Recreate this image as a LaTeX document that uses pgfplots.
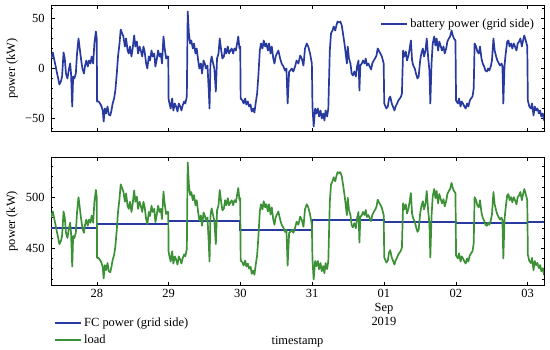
\documentclass[border=0pt]{standalone}
\usepackage{fontspec}
\setmainfont{Liberation Serif}
\usepackage{pgfplots}
\usepackage{pgfplotstable}
\pgfplotsset{compat=1.18}
\definecolor{cblue}{RGB}{40,58,160}
\definecolor{cgreen}{RGB}{60,145,55}
\pgfplotstableread{
h bat load
-15.3 10 480
-15.0 13 483
-14.7 16 486
-14.3 10 480
-13.8 3 473
-13.4 -3 467
-12.9 -10 460
-12.5 -16 454
-12.0 -13 457
-11.6 -8 462
-11.1 16 486
-10.7 10 480
-10.3 -5 465
-9.8 -10 460
-9.4 -2 468
-8.9 5 475
-8.6 -5 465
-8.2 -38 432
-7.9 -8 462
-7.5 -10 460
-7.0 -5 465
-6.6 15 485
-6.1 30 500
-5.7 20 490
-5.2 8 478
-4.8 0 470
-4.3 -5 465
-3.9 3 473
-3.5 8 478
-3.0 2 472
-2.6 8 478
-2.1 5 475
-1.7 12 482
-1.2 5 475
-0.8 25 495
-0.3 37 507
0.0 30 500
0.1 -33 440.5
0.6 -33 440.5
1.1 -35 438.5
1.6 -38 435.5
2.0 -42 431.5
2.3 -53 420.5
2.7 -40 433.5
3.1 -45 428.5
3.6 -38 435.5
4.0 -46 427.5
4.5 -47 426.5
4.9 -42 431.5
5.3 -35 438.5
5.8 -30 443.5
6.2 -22 451.5
6.7 -5 468.5
7.1 12 485.5
7.6 25 498.5
8.0 39 512.5
8.5 35 508.5
8.9 32 505.5
9.4 22 495.5
9.8 30 503.5
10.3 18 491.5
10.7 15 488.5
11.1 22 495.5
11.6 12 485.5
12.0 20 493.5
12.5 33 506.5
12.9 22 495.5
13.4 27 500.5
13.8 15 488.5
14.3 22 495.5
14.7 18 491.5
15.2 12 485.5
15.6 22 495.5
16.0 17 490.5
16.5 5 478.5
16.9 0 473.5
17.4 12 485.5
17.8 8 481.5
18.3 18 491.5
18.7 12 485.5
19.2 15 488.5
19.6 2 475.5
20.1 10 483.5
20.5 18 491.5
21.0 12 485.5
21.4 15 488.5
21.8 5 478.5
22.3 32 505.5
22.7 20 493.5
23.2 10 483.5
23.6 12 485.5
23.9 12 485.5
24.0 -30 447
24.3 -35 442
24.7 -40 437
25.2 -30 447
25.6 -42 435
26.1 -35 442
26.5 -38 439
27.0 -43 434
27.4 -35 442
27.9 -38 439
28.3 -42 435
28.7 -37 440
29.2 -33 444
29.6 -35 442
30.1 -28 449
30.4 57 534
30.8 35 512
31.2 25 502
31.6 28 505
32.1 20 497
32.5 25 502
33.0 15 492
33.4 20 497
33.9 8 485
34.3 0 477
34.8 5 482
35.2 -5 472
35.7 8 485
36.1 5 482
36.5 0 477
37.0 3 480
37.4 -20 457
37.7 -40 437
38.0 5 482
38.4 12 489
38.9 5 482
39.3 0 477
39.8 -23 454
40.2 10 487
40.7 15 492
41.1 30 507
41.6 18 495
42.0 10 487
42.5 12 489
42.9 20 497
43.3 15 492
43.8 22 499
44.2 15 492
44.7 18 495
45.1 20 497
45.6 15 492
46.0 20 497
46.5 18 495
46.9 25 502
47.3 32 509
47.7 20 497
47.95 22 499
48.1 -30 438
48.7 -32 436
49.1 -35 433
49.6 -30 438
50.0 -36 432
50.5 -33 435
50.9 -38 430
51.4 -36 432
51.8 -43 425
52.3 -40 428
52.7 -44 424
53.1 -35 433
53.6 -25 443
54.0 -8 460
54.5 18 486
54.9 25 493
55.4 20 488
55.8 28 496
56.3 22 490
56.7 25 493
57.2 18 486
57.6 25 493
58.1 15 483
58.5 22 490
59.0 10 478
59.4 5 473
59.8 12 480
60.2 15 483
60.7 18 486
61.3 10 478
61.8 5 473
62.4 2 470
62.9 -2 466
63.4 0 468
63.8 -35 433
64.3 -3 465
64.7 -2 466
65.2 0 468
65.7 -3 465
66.3 2 470
66.8 8 476
67.4 5 473
68.0 13 481
68.5 10 478
69.1 3 471
69.6 20 488
70.2 25 493
70.7 22 490
71.3 15 483
71.9 5 473
72.1 -38 439.5
72.5 -58 419.5
73.0 -40 437.5
73.4 -45 432.5
73.9 -40 437.5
74.3 -48 429.5
74.8 -42 435.5
75.2 -50 427.5
75.7 -45 432.5
76.1 -52 425.5
76.5 -42 435.5
77.0 -48 429.5
77.4 -40 437.5
77.9 18 495.5
78.3 35 512.5
78.8 38 515.5
79.2 42 519.5
79.7 38 515.5
80.1 43 520.5
80.5 47 524.5
81.0 46 523.5
81.4 47 524.5
81.9 43 520.5
82.3 35 512.5
82.8 25 502.5
83.2 15 492.5
83.6 5 482.5
83.9 22 499.5
84.3 10 487.5
84.8 5 482.5
85.2 -5 472.5
85.6 -7 470.5
86.1 -3 474.5
86.6 -8 469.5
87.0 2 479.5
87.5 8 485.5
87.8 -22 455.5
88.1 3 480.5
88.6 5 482.5
89.0 8 485.5
89.5 5 482.5
89.9 10 487.5
90.3 3 480.5
90.8 5 482.5
91.2 2 479.5
91.7 -1 476.5
92.1 5 482.5
92.6 8 485.5
93.0 10 487.5
93.5 13 490.5
93.9 20 497.5
94.4 17 494.5
94.8 15 492.5
95.3 12 489.5
95.9 5 482.5
96.1 -35 441
96.8 -40 436
97.3 -38 438
97.7 -30 446
98.1 -28 448
98.6 -35 441
99.0 -38 438
99.5 -42 434
99.9 -38 438
100.4 -35 441
100.8 -32 444
101.3 -30 446
101.7 -28 448
102.0 -25 451
102.4 18 494
102.8 12 488
103.3 17 493
103.7 8 484
104.2 13 489
104.6 20 496
105.0 28 504
105.4 8 484
105.8 3 479
106.3 0 476
106.7 -5 471
107.2 -10 466
107.6 -8 468
108.1 8 484
108.5 15 491
109.0 20 496
109.4 12 488
109.9 18 494
110.3 30 506
110.8 10 486
111.2 -2 474
111.5 -35 441
111.9 5 481
112.3 25 501
112.8 32 508
113.2 23 499
113.6 30 506
114.1 18 494
114.5 27 503
115.0 22 498
115.4 18 494
115.9 22 498
116.3 15 491
116.8 20 496
117.2 27 503
117.7 30 506
118.1 32 508
118.6 38 514
119.0 33 509
119.4 30 506
119.9 28 504
120.1 -32 443
120.7 -35 440
121.1 -30 445
121.6 -38 437
122.0 -33 442
122.4 -35 440
122.9 -38 437
123.3 -40 435
123.8 -35 440
124.2 -38 437
124.7 -32 443
125.1 -30 445
125.6 -28 447
126.0 -20 455
126.3 25 500
126.8 22 497
127.2 17 492
127.7 15 490
128.1 22 497
128.6 10 485
129.0 5 480
129.5 2 477
129.9 -2 473
130.4 -3 472
130.8 0 475
131.2 -2 473
131.7 2 477
132.1 8 483
132.6 30 505
133.0 18 493
133.5 12 487
133.9 8 483
134.4 5 480
134.8 3 478
135.3 5 480
135.6 2 477
135.9 -35 440
136.3 3 478
136.7 15 490
137.2 27 502
137.6 28 503
138.0 22 497
138.5 25 500
138.9 20 495
139.4 25 500
139.8 22 497
140.3 18 493
140.7 25 500
141.2 27 502
141.6 30 505
142.1 22 497
142.5 28 503
142.9 33 508
143.4 28 503
143.9 22 497
144.1 -32 443.5
144.6 -38 437.5
145.1 -40 435.5
145.5 -35 440.5
146.0 -47 428.5
146.4 -38 437.5
146.9 -42 433.5
147.3 -40 435.5
147.8 -45 430.5
148.2 -42 433.5
148.6 -48 427.5
149.1 -45 430.5
149.5 -52 423.5
}\data
\begin{document}
\fontsize{12.5}{14}\selectfont
\begin{tikzpicture}[x=1bp,y=1bp]
\path[use as bounding box] (0,0) rectangle (550,349);
\pgfplotsset{
  common/.style={
    width=493bp, scale only axis,
    xmin=-15.3, xmax=149.5,
    xtick={0,24,48,72,96,120,144},
    tick align=inside, xtick pos=both, ytick pos=both,
    major tick length=3.5bp, minor tick length=2bp,
    tick style={black, line width=0.5pt},
    axis line style={line width=0.6pt},
    /pgf/number format/assume math mode=true,
    yticklabel style={xshift=-2bp},
    ylabel={power (kW)},
    every axis y label/.style={at={(axis description cs:-0.079,0.5)}, rotate=90, anchor=center},
    legend cell align=left,
    legend image code/.code={\draw[##1, line width=2pt] (0bp,0bp) -- (26bp,0bp);},
  }
}
\begin{axis}[common, at={(51bp,217.3bp)}, anchor=south west, height=126.4bp,
  ymin=-63.2, ymax=63.2, ytick={-50,0,50}, yticklabels={−50,0,50},
  minor ytick={-60,-40,-30,-20,-10,10,20,30,40,60},
  xticklabels={},
  legend style={at={(axis description cs:0.99,0.926)}, anchor=north east, draw=none, fill=none}]
\addplot[cblue, line width=1.7pt, line join=round] table[x=h,y=bat]{\data};
\addlegendentry{battery power (grid side)}
\end{axis}
\begin{axis}[common, at={(51bp,64bp)}, anchor=south west, height=127.7bp,
  ymin=414, ymax=539, ytick={450,500},
  minor ytick={420,430,440,460,470,480,490,510,520,530},
  xticklabels={28,29,30,31,{01\\Sep\\2019},02,03},
  xticklabel style={align=center},
  xlabel={timestamp},
  every axis x label/.style={at={(axis description cs:0.5,-0.445)}, anchor=center},
  legend style={at={(axis description cs:0.0,-0.222)}, anchor=north west, draw=none, fill=none, row sep=3bp}]
\addplot[cblue, line width=1.8pt] coordinates {(-15.3,470) (0,470) (0,473.5) (24,473.5) (24,477) (48,477) (48,468) (72,468) (72,477.5) (96,477.5) (96,476) (120,476) (120,475) (144,475) (144,475.5) (149.5,475.5)};
\addlegendentry{FC power (grid side)}
\addplot[cgreen, line width=1.7pt, line join=round] table[x=h,y=load]{\data};
\addlegendentry{load}
\end{axis}
\end{tikzpicture}
\end{document}
